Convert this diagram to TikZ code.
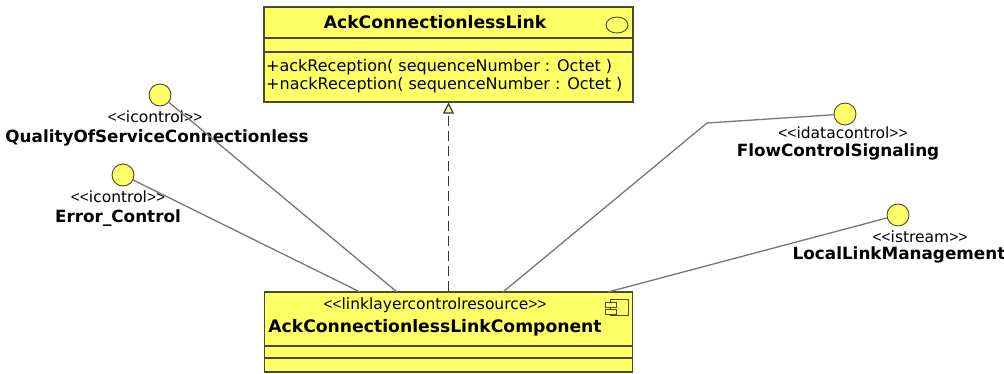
\documentclass[tikz,border=0pt]{standalone}
\usepackage{fontspec}
\setmainfont{DejaVu Sans}
\newfontfamily\narrowfont{Liberation Sans}
\usetikzlibrary{arrows.meta}
\definecolor{umlfill}{HTML}{FFFF66}
\definecolor{umlline}{HTML}{4A4A30}
\definecolor{linkline}{HTML}{777777}
\definecolor{realline}{HTML}{33334D}
% stereotype brackets in a narrower face
\newcommand{\stereo}[1]{{\narrowfont<\kern0pt<}#1{\narrowfont>\kern0pt>}}
\begin{document}
\begin{tikzpicture}[x=1pt,y=-1pt,
  umlbox/.style={draw=umlline, fill=umlfill, line width=1.1pt, inner sep=0pt},
  iface/.style={circle, draw=umlline, fill=umlfill, line width=0.9pt, minimum size=22pt, inner sep=0pt},
  namelabel/.style={font=\fontsize{16.8}{20}\selectfont\bfseries, inner sep=0pt},
  boxname/.style={font=\fontsize{17.2}{20}\selectfont\bfseries, inner sep=0pt},
  stlabel/.style={font=\fontsize{15.5}{18}\selectfont, inner sep=0pt},
  oplabel/.style={font=\fontsize{16}{19}\selectfont, inner sep=0pt, anchor=west},
  sepline/.style={draw=umlline, line width=1.1pt},
  assoc/.style={draw=linkline, line width=1.3pt},
  realize/.style={draw=realline, line width=1.2pt, dash pattern=on 10pt off 5pt,
    -{Triangle[open, width=11pt, length=11pt, fill=umlfill!70!white]}}
]
\useasboundingbox[fill=white] (0,0) rectangle (1004,373);

% interface class
\node[umlbox, minimum width=369pt, minimum height=95pt] (cls) at (448.5,54.5) {};
\draw[sepline] (264,38) -- (633,38);
\draw[sepline] (264,52) -- (633,52);
\node[boxname] (clsname) at (435,22) {AckConnectionlessLink};
\draw[umlline, line width=0.9pt] (617,25) ellipse [x radius=11, y radius=8];
\node[oplabel] (op1) at (266,67) {+ackReception( sequenceNumber : Octet )};
\node[oplabel] (op2) at (266,85) {+nackReception( sequenceNumber : Octet )};

% component
\node[umlbox, minimum width=368pt, minimum height=80pt] (comp) at (448.5,332) {};
\draw[sepline] (265,346) -- (633,346);
\draw[sepline] (265,358) -- (633,358);
\node[stlabel] (compst) at (435,305) {\stereo{linklayercontrolresource}};
\node[boxname] (compname) at (435,328) {AckConnectionlessLinkComponent};
% component icon
\draw[umlline, line width=0.9pt, fill=umlfill] (610,299) rectangle (628,315);
\draw[umlline, line width=0.9pt, fill=umlfill] (605,302.5) rectangle (616,307);
\draw[umlline, line width=0.9pt, fill=umlfill] (605,309.5) rectangle (616,314);

% realization
\draw[realize] (comp.north) -- (cls.south);

% provided interfaces
\node[iface] (qos) at (160,95) {};
\node[stlabel] (qosst) at (155,117) {\stereo{icontrol}};
\node[namelabel] (qosname) at (157,138) {QualityOfServiceConnectionless};

\node[iface] (err) at (123,175) {};
\node[stlabel] (errst) at (118,197) {\stereo{icontrol}};
\node[namelabel] (errname) at (118,218) {Error\_Control};

\node[iface] (flow) at (845,114) {};
\node[stlabel] (flowst) at (843,133) {\stereo{idatacontrol}};
\node[namelabel] (flowname) at (838,152) {FlowControlSignaling};

\node[iface] (llm) at (898,215) {};
\node[stlabel] (llmst) at (920,237) {\stereo{istream}};
\node[namelabel] (llmname) at (899,255) {LocalLinkManagement};

% connector anchors on the component's top edge
\coordinate (pErr) at (360,292);
\coordinate (pQos) at (397,292);
\coordinate (pFlow) at (503,292);
\coordinate (bend) at (707,123);
\coordinate (pLlm) at (608,292);

\draw[assoc] (qos) -- (pQos);
\draw[assoc] (err) -- (pErr);
\draw[assoc] (pFlow) -- (bend) -- (flow);
\draw[assoc] (pLlm) -- (llm);
\end{tikzpicture}
\end{document}
